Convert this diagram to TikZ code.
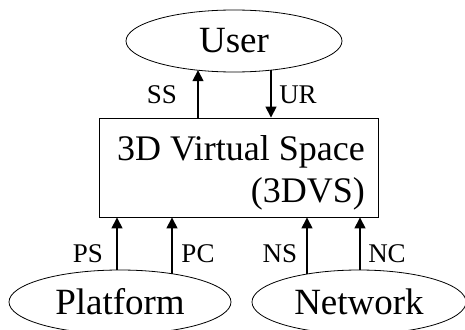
\documentclass[tikz,border=0pt]{standalone}
\usepackage{fontspec}
\setmainfont{Liberation Serif}
\usetikzlibrary{shapes.geometric,arrows.meta,calc}
\begin{document}
\begin{tikzpicture}[x=1pt,y=-1pt,
  ell/.style={draw,ellipse,inner sep=0pt,line width=0.8pt,font=\fontsize{37}{40}\selectfont},
  vbox/.style={draw,rectangle,line width=0.9pt,inner sep=0pt,minimum width=279pt,minimum height=99pt},
  vtext/.style={font=\fontsize{36}{42}\selectfont,align=right,inner sep=0pt},
  lab/.style={font=\fontsize{27}{29}\selectfont,inner sep=0pt},
  arr/.style={line width=1.5pt,-{Triangle[width=11pt,length=11pt]}}]
\useasboundingbox (0,0) rectangle (465,329);
\node[ell,minimum width=216pt,minimum height=62pt] (user) at (234,41) {User};
\node[ell,minimum width=222pt,minimum height=64pt] (plat) at (120,302) {Platform};
\node[ell,minimum width=214pt,minimum height=64pt] (net) at (359,302) {Network};
\node[vbox] (box) at (238.5,167.5) {};
\node[vtext,anchor=base east] (boxtxt) at (365,202) {3D Virtual Space\\(3DVS)};
% boundary points on the ellipses
\coordinate (ssT) at ($(user.center)+(-36,29.2)$);
\coordinate (urT) at ($(user.center)+(37,29.1)$);
\coordinate (psT) at ($(plat.center)+(-3,-32)$);
\coordinate (pcT) at ($(plat.center)+(52,-28.3)$);
\coordinate (nsT) at ($(net.center)+(-52,-28)$);
\coordinate (ncT) at ($(net.center)+(1,-32)$);
\draw[arr] (box.north -| ssT) -- (ssT);
\draw[arr] (urT) -- (box.north -| urT);
\draw[arr] (psT) -- (box.south -| psT);
\draw[arr] (pcT) -- (box.south -| pcT);
\draw[arr] (nsT) -- (box.south -| nsT);
\draw[arr] (ncT) -- (box.south -| ncT);
\node[lab] (ss) at (162,95) {SS};
\node[lab] (ur) at (298,95) {UR};
\node[lab] (ps) at (88,254) {PS};
\node[lab] (pc) at (198,254) {PC};
\node[lab] (ns) at (280,254) {NS};
\node[lab] (nc) at (387,254) {NC};
\end{tikzpicture}
\end{document}
